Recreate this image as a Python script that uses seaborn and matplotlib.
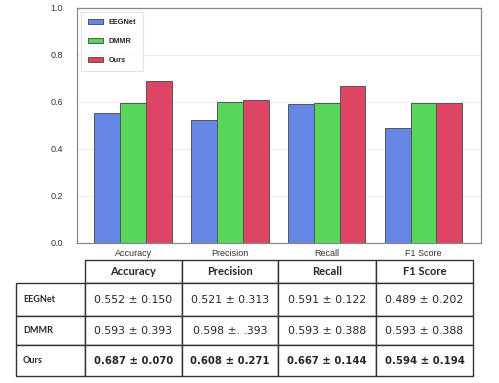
import pandas as pd
import seaborn as sns
import matplotlib.pyplot as plt

# Chart data
metrics = ['Accuracy', 'Precision', 'Recall', 'F1 Score']
models = ['EEGNet', 'DMMR', 'Ours']
eegnet_scores = [0.552, 0.521, 0.591, 0.489]
dmmr_scores = [0.593, 0.598, 0.593, 0.593]
ours_scores = [0.687, 0.608, 0.667, 0.594]

# Table text (mean ± std)
eegnet_text = ['0.552 ± 0.150', '0.521 ± 0.313', '0.591 ± 0.122', '0.489 ± 0.202']
dmmr_text = ['0.593 ± 0.393', '0.598 ±. .393', '0.593 ± 0.388', '0.593 ± 0.388']
ours_text = ['0.687 ± 0.070', '0.608 ± 0.271', '0.667 ± 0.144', '0.594 ± 0.194']

colors = ['#6586E5', '#58D65A', '#DE4565']

df = pd.DataFrame({
    'Metric': metrics * 3,
    'Model': [m for m in models for _ in metrics],
    'Score': eegnet_scores + dmmr_scores + ours_scores,
})

sns.set_style('white')
plt.rcParams['font.family'] = ['Liberation Sans', 'DejaVu Sans']

W, H = 499, 383
fig = plt.figure(figsize=(W / 100, H / 100), dpi=100)
ax = fig.add_axes([77 / W, 1 - 243 / H, (480.7 - 77) / W, (243 - 7.5) / H])

sns.barplot(data=df, x='Metric', y='Score', hue='Model', palette=colors,
            edgecolor='#555555', linewidth=0.7, width=0.8, saturation=1,
            ax=ax)

# Axis styling
ax.set_xlim(-0.58, 3.59)
ax.set_ylim(0, 1.0)
ax.set_yticks([0.0, 0.2, 0.4, 0.6, 0.8, 1.0])
ax.set_yticklabels(['0.0', '0.2', '0.4', '0.6', '0.8', '1.0'])
ax.set_xlabel('')
ax.set_ylabel('')
ax.yaxis.grid(True, color='#ececec', linewidth=0.8)
ax.set_axisbelow(True)
for s in ax.spines.values():
    s.set_color('#888888')
    s.set_linewidth(0.9)
ax.tick_params(axis='x', length=2, width=0.6, color='#888888', labelsize=6.5,
               labelcolor='#333333', pad=2)
ax.tick_params(axis='y', length=0, labelsize=6.5, labelcolor='#333333', pad=10)

leg = ax.legend(loc='upper left', frameon=True, fancybox=False,
                prop={'weight': 'bold', 'size': 5.3},
                labelspacing=1.6, handlelength=2.0, handleheight=0.8,
                borderaxespad=0.6, borderpad=0.9)
leg.get_frame().set_edgecolor('#dddddd')
leg.get_frame().set_linewidth(0.8)

# Results table under the chart
tax = fig.add_axes([16 / W, 1 - 376 / H, (473 - 16) / W, (376 - 260) / H])
tax.axis('off')

cell_text = [[''] + metrics,
             ['EEGNet'] + eegnet_text,
             ['DMMR'] + dmmr_text,
             ['Ours'] + ours_text]
tbl = tax.table(cellText=cell_text, cellLoc='center', bbox=[0, 0, 1, 1])
tbl.auto_set_font_size(False)

col_w = [69, 96.7, 96.6, 97.7, 97]
row_h = [23.3, 32.7, 29, 31]
for (r, c), cell in tbl.get_celld().items():
    cell.set_width(col_w[c])
    cell.set_height(row_h[r])
    cell.set_edgecolor('#333333')
    cell.set_linewidth(1.0)
    txt = cell.get_text()
    if r == 0:
        txt.set_fontfamily('Lato')
        txt.set_fontweight('bold')
        txt.set_fontsize(8)
    elif c == 0:
        txt.set_fontfamily('Lato')
        txt.set_fontweight('bold')
        txt.set_fontsize(6.5)
        cell._loc = 'left'
        txt.set_ha('left')
    else:
        txt.set_fontfamily('DejaVu Sans')
        txt.set_fontsize(7.8)
        if r == 3:
            txt.set_fontweight('bold')
            txt.set_fontsize(7.3)
tbl[0, 0].visible_edges = 'open'

fig.savefig('out.png', dpi=100)
